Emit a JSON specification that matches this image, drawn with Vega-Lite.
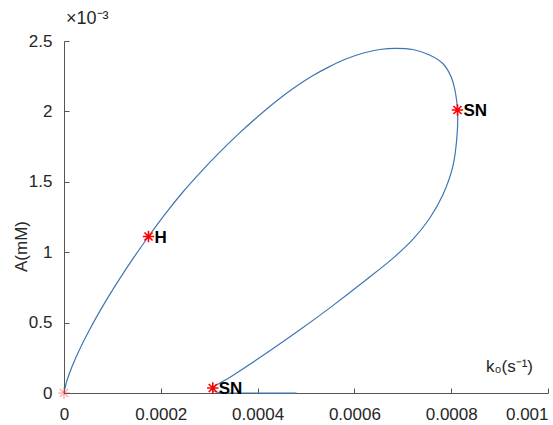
{
  "$schema": "https://vega.github.io/schema/vega-lite/v6.json",
  "width": 484,
  "height": 352,
  "autosize": "none",
  "padding": {"left": 64, "top": 41, "right": 5, "bottom": 32},
  "background": "white",
  "config": {"view": {"stroke": null}, "font": "Liberation Sans"},
  "title": {"text": "×10⁻³", "anchor": "start", "frame": "group", "offset": 4, "dx": 2, "fontSize": 18, "fontWeight": "normal", "color": "#262626"},
  "datasets": {
    "curve": [
      {"i": 1, "k": 0, "A": 0},
      {"i": 2, "k": 0.00000413, "A": 0.0653},
      {"i": 3, "k": 0.00001033, "A": 0.1314},
      {"i": 4, "k": 0.0000248, "A": 0.2543},
      {"i": 5, "k": 0.0000517, "A": 0.4425},
      {"i": 6, "k": 0.0000826, "A": 0.6314},
      {"i": 7, "k": 0.0001136, "A": 0.8033},
      {"i": 8, "k": 0.0001446, "A": 0.9645},
      {"i": 9, "k": 0.0001746, "A": 1.1115},
      {"i": 10, "k": 0.0002097, "A": 1.2741},
      {"i": 11, "k": 0.0002448, "A": 1.424},
      {"i": 12, "k": 0.00028, "A": 1.5604},
      {"i": 13, "k": 0.0003192, "A": 1.7017},
      {"i": 14, "k": 0.0003585, "A": 1.8331},
      {"i": 15, "k": 0.0003977, "A": 1.9553},
      {"i": 16, "k": 0.0004384, "A": 2.0725},
      {"i": 17, "k": 0.0004756, "A": 2.1683},
      {"i": 18, "k": 0.0005128, "A": 2.2514},
      {"i": 19, "k": 0.0005486, "A": 2.3182},
      {"i": 20, "k": 0.0005837, "A": 2.3736},
      {"i": 21, "k": 0.0006188, "A": 2.4148},
      {"i": 22, "k": 0.0006519, "A": 2.4396},
      {"i": 23, "k": 0.000687, "A": 2.4482},
      {"i": 24, "k": 0.0007207, "A": 2.4396},
      {"i": 25, "k": 0.0007552, "A": 2.4006},
      {"i": 26, "k": 0.0007826, "A": 2.3402},
      {"i": 27, "k": 0.0008, "A": 2.2443},
      {"i": 28, "k": 0.0008089, "A": 2.1307},
      {"i": 29, "k": 0.000813, "A": 2.0099},
      {"i": 30, "k": 0.0008124, "A": 1.8445},
      {"i": 31, "k": 0.0008033, "A": 1.6073},
      {"i": 32, "k": 0.0007826, "A": 1.4063},
      {"i": 33, "k": 0.0007552, "A": 1.2394},
      {"i": 34, "k": 0.0007207, "A": 1.0909},
      {"i": 35, "k": 0.0006793, "A": 0.956},
      {"i": 36, "k": 0.0006244, "A": 0.804},
      {"i": 37, "k": 0.0005554, "A": 0.6207},
      {"i": 38, "k": 0.0004866, "A": 0.4467},
      {"i": 39, "k": 0.0004178, "A": 0.282},
      {"i": 40, "k": 0.0003488, "A": 0.125},
      {"i": 41, "k": 0.0003074, "A": 0.0355},
      {"i": 42, "k": 0.0003064, "A": 0.0178},
      {"i": 43, "k": 0.0003213, "A": 0.0028},
      {"i": 44, "k": 0.0003833, "A": 0.0},
      {"i": 45, "k": 0.0004804, "A": -0.0007}
    ],
    "pts": [
      {"k": 0.0001746, "A": 1.1115, "label": "H"},
      {"k": 0.000813, "A": 2.0099, "label": "SN"},
      {"k": 0.0003074, "A": 0.0355, "label": "SN"}
    ],
    "origin": [
      {"k": 0, "A": 0}
    ]
  },
  "layer": [
    {
      "data": {"name": "curve"},
      "mark": {"type": "line", "color": "#3d76b3", "strokeWidth": 1.2, "interpolate": "catmull-rom"},
      "encoding": {
        "x": {
          "field": "k", "type": "quantitative",
          "scale": {"domain": [0, 0.001], "nice": false, "zero": false},
          "axis": {
            "values": [0, 0.0002, 0.0004, 0.0006, 0.0008, 0.001],
            "format": "~g", "grid": false,
            "domainColor": "#555555", "tickColor": "#555555", "tickSize": -5,
            "labelPadding": 18, "labelFontSize": 17, "labelColor": "#262626",
            "labelAlign": {"condition": {"test": "datum.value >= 0.00099", "value": "right"}, "value": "center"},
            "labelFlush": false, "labelOverlap": false,
            "title": "k₀(s⁻¹)", "titleX": 445, "titleY": -27,
            "titleBaseline": "middle", "titleAlign": "center",
            "titleFontSize": 17, "titleFontWeight": "normal", "titleColor": "#262626"
          }
        },
        "y": {
          "field": "A", "type": "quantitative",
          "scale": {"domain": [0, 2.5], "nice": false, "zero": false},
          "axis": {
            "values": [0, 0.5, 1, 1.5, 2, 2.5],
            "format": "~g", "grid": false,
            "domainColor": "#555555", "tickColor": "#555555", "tickSize": -5,
            "labelPadding": 17, "labelFontSize": 17, "labelColor": "#262626",
            "labelFlush": false, "labelOverlap": false,
            "title": "A(mM)", "titleX": -43, "titleY": 205, "titleAngle": -90,
            "titleBaseline": "middle", "titleAlign": "center",
            "titleFontSize": 17, "titleFontWeight": "normal", "titleColor": "#262626"
          }
        },
        "order": {"field": "i", "type": "quantitative"}
      }
    },
    {
      "data": {"name": "origin"},
      "mark": {"type": "point", "shape": "M-1,0L1,0M0,-1L0,1M-0.71,-0.71L0.71,0.71M-0.71,0.71L0.71,-0.71", "filled": false, "stroke": "#ff0000", "strokeWidth": 1.6, "size": 130, "opacity": 0.3},
      "encoding": {
        "x": {"field": "k", "type": "quantitative"},
        "y": {"field": "A", "type": "quantitative"}
      }
    },
    {
      "data": {"name": "pts"},
      "mark": {"type": "point", "shape": "M-1,0L1,0M0,-1L0,1M-0.71,-0.71L0.71,0.71M-0.71,0.71L0.71,-0.71", "filled": false, "stroke": "#ff0000", "strokeWidth": 1.6, "size": 130, "opacity": 1},
      "encoding": {
        "x": {"field": "k", "type": "quantitative"},
        "y": {"field": "A", "type": "quantitative"}
      }
    },
    {
      "data": {"name": "pts"},
      "mark": {"type": "text", "align": "left", "baseline": "middle", "dx": 6, "dy": 1, "fontSize": 17, "fontWeight": "bold", "color": "#000000"},
      "encoding": {
        "x": {"field": "k", "type": "quantitative"},
        "y": {"field": "A", "type": "quantitative"},
        "text": {"field": "label"}
      }
    }
  ]
}
